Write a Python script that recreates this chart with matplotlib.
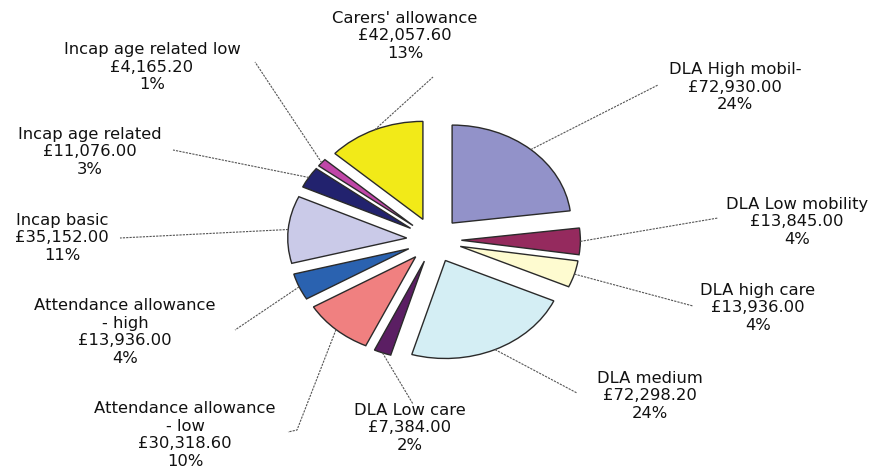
import numpy as np
import matplotlib
matplotlib.use("Agg")
import matplotlib.pyplot as plt

# benefit categories, clockwise from 12 o'clock
names = ["DLA High mobil-", "DLA Low mobility", "DLA high care", "DLA medium",
         "DLA Low care", "Attendance allowance\n- low", "Attendance allowance\n- high",
         "Incap basic", "Incap age related", "Incap age related low", "Carers' allowance"]
amounts = [72930.00, 13845.00, 13936.00, 72298.20, 7384.00, 30318.60,
           13936.00, 35152.00, 11076.00, 4165.20, 42057.60]
pct_labels = ["24%", "4%", "4%", "24%", "2%", "10%", "4%", "11%", "3%", "1%", "13%"]

colors = ["#9292C9", "#952A5E", "#FEFBD0", "#D4EEF4", "#5B1E63", "#F08080",
          "#2A62B0", "#CACAE8", "#22226E", "#C046A8", "#F2EA18"]

# pixel layout of the picture: pie centre and radii (the picture is stretched)
CX, CY, RX, RY = 434, 240, 119, 98
W, H = 883, 470

def px(x, y):
    return (x - CX) / RX, (CY - y) / RY

# label centres and the end of each leader line, in pixels
text_pos = [(735, 87), (797, 222), (758, 308), (650, 396), (410, 428), (185, 435),
            (125, 332), (62, 238), (90, 152), (152, 67), (405, 36)]
line_end = [(658, 85), (718, 218), (693, 306), (577, 393), (413, 404), (288, 432),
            (235, 330), (120, 238), (173, 150), (255, 62), (433, 77)]
elbow = {5: (297, 430)}

plt.rcParams['font.family'] = ['DejaVu Sans']

fig = plt.figure(figsize=(W / 100, H / 100), dpi=100)
ax = fig.add_axes([0, 0, 1, 1])

wedges, _ = ax.pie(amounts, colors=colors, startangle=90, counterclock=False,
                   explode=[0.23] * len(amounts),
                   wedgeprops=dict(edgecolor="#2a2a2a", linewidth=1.0))

ax.set_aspect('auto')
ax.set_xlim(-CX / RX, (W - CX) / RX)
ax.set_ylim(-(H - CY) / RY, CY / RY)
ax.axis('off')

for i, w in enumerate(wedges):
    mid = np.deg2rad((w.theta1 + w.theta2) / 2)
    x0 = w.center[0] + w.r * np.cos(mid)
    y0 = w.center[1] + w.r * np.sin(mid)
    pts = [(x0, y0)]
    if i in elbow:
        pts.append(px(*elbow[i]))
    pts.append(px(*line_end[i]))
    xs, ys = zip(*pts)
    ax.plot(xs, ys, color="#555555", linewidth=0.8, linestyle=(0, (2, 1)))

    tx, ty = px(*text_pos[i])
    label = names[i] + "\n" + f"£{amounts[i]:,.2f}" + "\n" + pct_labels[i]
    ax.text(tx, ty, label, ha="center", va="center", multialignment="center",
            fontsize=11.8, color="#111111", linespacing=1.22)

fig.savefig("out.png", dpi=100)
